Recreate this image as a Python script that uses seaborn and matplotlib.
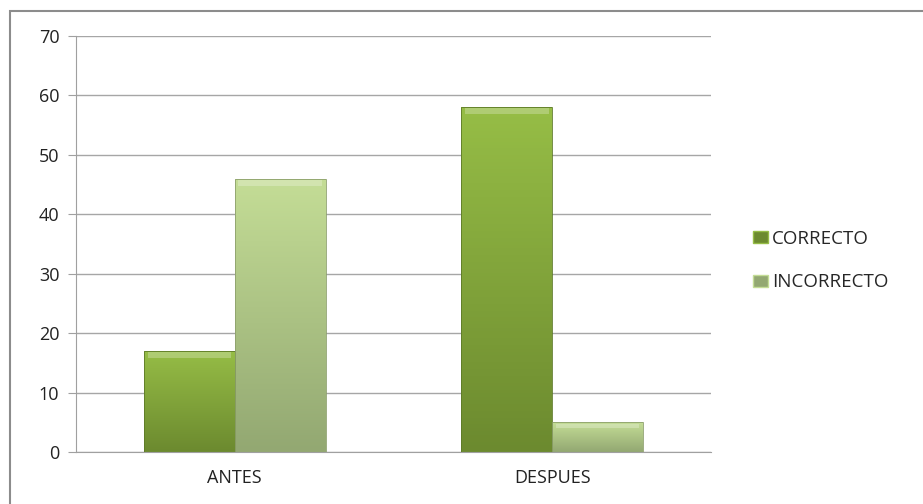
import numpy as np
import pandas as pd
import matplotlib
matplotlib.use('Agg')
import matplotlib.pyplot as plt
import seaborn as sns
from matplotlib.colors import LinearSegmentedColormap
from matplotlib.patches import Rectangle

# datos del grafico
momentos = ['ANTES', 'DESPUES']
series = ['CORRECTO', 'INCORRECTO']
correcto = [17, 58]
incorrecto = [46, 5]

df = pd.DataFrame({
    'momento': momentos * 2,
    'serie': [series[0]] * 2 + [series[1]] * 2,
    'valor': correcto + incorrecto,
})

sns.set_style('white')
plt.rcParams['font.family'] = ['Open Sans', 'DejaVu Sans']

colores = {'CORRECTO': '#86a83c', 'INCORRECTO': '#b5cf88'}
# degradado de cada serie (arriba -> abajo)
grad = {'CORRECTO': ('#96bd46', '#6c8a2f'), 'INCORRECTO': ('#c4dd96', '#93a872')}

fig = plt.figure(figsize=(9.23, 5.04), dpi=100)
ax = fig.add_axes([0.0823, 0.103, 0.688, 0.826])

sns.barplot(data=df, x='momento', y='valor', hue='serie', order=momentos,
            hue_order=series, palette=colores, width=0.572, ax=ax,
            edgecolor='none', legend=False)

# relleno en degradado sobre cada barra
for cont, s in zip(ax.containers, series):
    cmap = LinearSegmentedColormap.from_list(s, [grad[s][1], grad[s][0]])
    for p in cont.patches:
        x0, y0 = p.get_x(), p.get_y()
        w, h = p.get_width(), p.get_height()
        im = ax.imshow(np.linspace(0, 1, 100).reshape(-1, 1), cmap=cmap,
                       extent=[x0, x0 + w, y0, y0 + h], origin='lower',
                       aspect='auto', zorder=2)
        im.set_clip_path(p)
        ax.add_patch(Rectangle((x0, y0), w, h, fill=False,
                               edgecolor='#5d7a28' if s == 'CORRECTO' else '#8da06c',
                               lw=0.6, zorder=3))
        # brillo en la parte superior
        ax.add_patch(Rectangle((x0 + w * 0.04, y0 + h - min(1.2, h * 0.2)), w * 0.92,
                               min(1.0, h * 0.15), color='white', alpha=0.25,
                               lw=0, zorder=3))

ax.set_xlim(-0.5, 1.5)
ax.set_ylim(0, 70)
ax.set_yticks(range(0, 71, 10))
ax.set_aspect('auto')
ax.yaxis.grid(True, color='#a6a6a6', lw=1)
ax.set_axisbelow(True)
ax.set_xlabel('')
ax.set_ylabel('')

for sp in ['top', 'right']:
    ax.spines[sp].set_visible(False)
ax.spines['left'].set_color('#a0a0a0')
ax.spines['bottom'].set_color('#a0a0a0')

ax.set_xticks([-0.5, 0.5, 1.5], minor=False)
ax.set_xticklabels([])
ax.set_xticks([0, 1], minor=True)
ax.set_xticklabels(momentos, minor=True)
ax.tick_params(axis='x', which='major', length=6, color='#a0a0a0', direction='out')
ax.tick_params(axis='x', which='minor', length=0, pad=12, labelsize=13, labelcolor='#222222')
ax.tick_params(axis='y', length=6, color='#a0a0a0', direction='out', pad=6,
               labelsize=13, labelcolor='#222222', left=True)

# leyenda
handles = [Rectangle((0, 0), 1, 1, facecolor=grad[s][1], edgecolor=grad[s][0]) for s in series]
fig.legend(handles, series, loc='center left', bbox_to_anchor=(0.797, 0.483),
           frameon=False, fontsize=13.5, handlelength=0.8, handleheight=0.6,
           handletextpad=0.25, labelspacing=1.35)

# borde exterior del grafico
fig.patches.append(Rectangle((10 / 923, -0.01), 1.02, 1 - 11 / 504 + 0.01,
                             transform=fig.transFigure, fill=False,
                             edgecolor='#8c8c8c', lw=1.5))

fig.savefig('out.png', dpi=100)
